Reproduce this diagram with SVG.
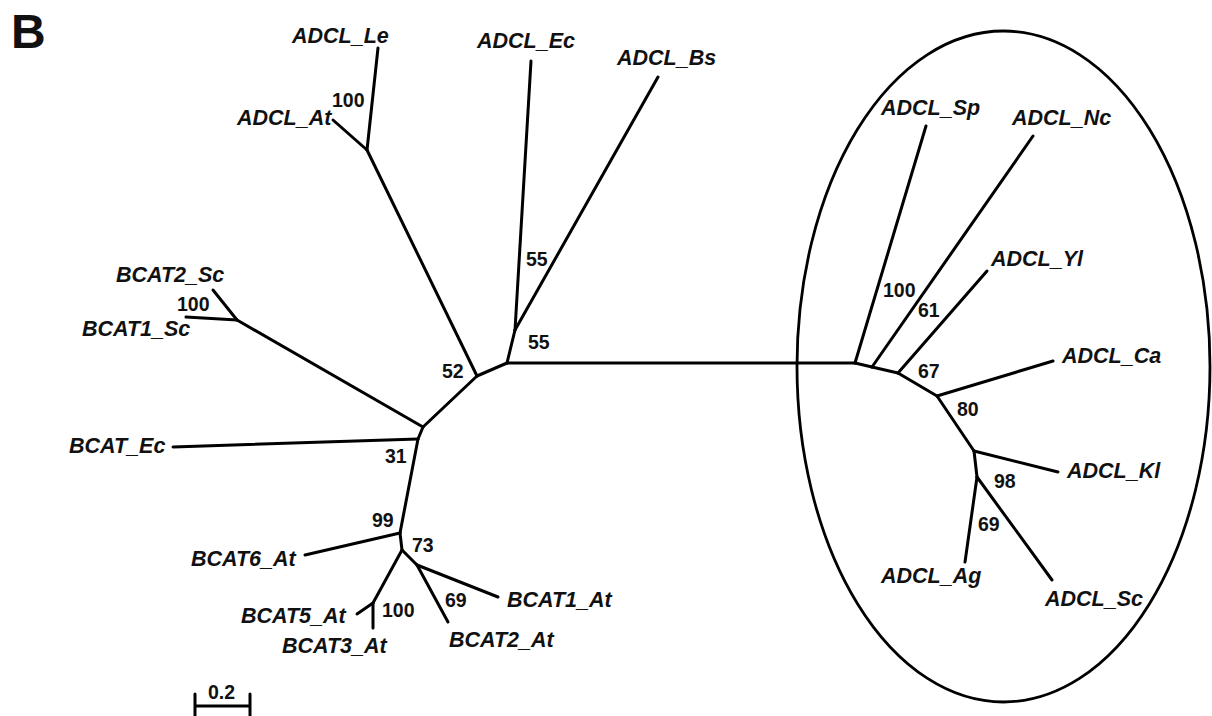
<svg xmlns="http://www.w3.org/2000/svg" width="1212" height="716" viewBox="0 0 1212 716">
  <style>
    .br { fill: none; stroke: #000; stroke-width: 3; stroke-linecap: round; stroke-linejoin: round; }
    .taxon { font-family: "Liberation Sans", Arial, sans-serif; font-weight: bold; font-style: italic; font-size: 21.5px; fill: #111; }
    .boot { font-family: "Liberation Sans", Arial, sans-serif; font-weight: bold; font-size: 19.5px; fill: #111; }
    .panel { font-family: "Liberation Sans", Arial, sans-serif; font-weight: bold; font-size: 48px; fill: #111; }
    .clade { fill: none; stroke: #000; stroke-width: 2.8; }
  </style>
  <rect width="1212" height="716" fill="#fff"/>

  <text class="panel" x="11" y="48">B</text>

  <!-- ADCL clade outline -->
  <ellipse class="clade" cx="1003.5" cy="366.5" rx="206.5" ry="335.5"/>

  <!-- tree branches -->
  <g id="connectors" class="br">
    <path d="M367,150 L378,48"/>
    <path d="M367,150 L333,120"/>
    <path d="M367,150 L477,376"/>
    <path d="M477,376 L507,363"/>
    <path d="M507,363 L515,330"/>
    <path d="M515,330 L531,61"/>
    <path d="M515,330 L658,77"/>
    <path d="M507,363 L855,363"/>
    <path d="M855,363 L926,126"/>
    <path d="M855,363 L872,367"/>
    <path d="M872,367 L1033,136"/>
    <path d="M872,367 L898,373"/>
    <path d="M898,373 L987,271"/>
    <path d="M898,373 L937,396"/>
    <path d="M937,396 L1053,361"/>
    <path d="M937,396 L974,451"/>
    <path d="M974,451 L1058,472"/>
    <path d="M974,451 L977,477"/>
    <path d="M977,477 L965,562"/>
    <path d="M977,477 L1052,580"/>
    <path d="M477,376 L423,427"/>
    <path d="M423,427 L237,320"/>
    <path d="M237,320 L213,290"/>
    <path d="M237,320 L186,317"/>
    <path d="M423,427 L418,439"/>
    <path d="M418,439 L173,447"/>
    <path d="M418,439 L400,533"/>
    <path d="M400,533 L305,555"/>
    <path d="M400,533 L402,550"/>
    <path d="M402,550 L417,565"/>
    <path d="M417,565 L498,597"/>
    <path d="M417,565 L448,622"/>
    <path d="M402,550 L373,603"/>
    <path d="M373,603 L357,614"/>
    <path d="M373,603 L373,628"/>
  </g>

  <!-- leaves -->
  <g id="ADCL_Le"><text class="taxon" x="292" y="43">ADCL_Le</text></g>
  <g id="ADCL_At"><text class="taxon" x="237" y="125">ADCL_At</text></g>
  <g id="ADCL_Ec"><text class="taxon" x="477" y="48">ADCL_Ec</text></g>
  <g id="ADCL_Bs"><text class="taxon" x="617" y="65">ADCL_Bs</text></g>
  <g id="ADCL_Sp"><text class="taxon" x="881" y="115">ADCL_Sp</text></g>
  <g id="ADCL_Nc"><text class="taxon" x="1012" y="125">ADCL_Nc</text></g>
  <g id="ADCL_Yl"><text class="taxon" x="991" y="266">ADCL_Yl</text></g>
  <g id="ADCL_Ca"><text class="taxon" x="1062" y="363">ADCL_Ca</text></g>
  <g id="ADCL_Kl"><text class="taxon" x="1067" y="478">ADCL_Kl</text></g>
  <g id="ADCL_Ag"><text class="taxon" x="881" y="583">ADCL_Ag</text></g>
  <g id="ADCL_Sc"><text class="taxon" x="1045" y="606">ADCL_Sc</text></g>
  <g id="BCAT2_Sc"><text class="taxon" x="116" y="282">BCAT2_Sc</text></g>
  <g id="BCAT1_Sc"><text class="taxon" x="82" y="336">BCAT1_Sc</text></g>
  <g id="BCAT_Ec"><text class="taxon" x="69" y="453">BCAT_Ec</text></g>
  <g id="BCAT6_At"><text class="taxon" x="191" y="566">BCAT6_At</text></g>
  <g id="BCAT5_At"><text class="taxon" x="241" y="623">BCAT5_At</text></g>
  <g id="BCAT3_At"><text class="taxon" x="282" y="653">BCAT3_At</text></g>
  <g id="BCAT1_At"><text class="taxon" x="507" y="607">BCAT1_At</text></g>
  <g id="BCAT2_At"><text class="taxon" x="449" y="647">BCAT2_At</text></g>

  <!-- bootstrap support values -->
  <g id="support">
    <text class="boot" x="332" y="107">100</text>
    <text class="boot" x="177" y="311">100</text>
    <text class="boot" x="385" y="463">31</text>
    <text class="boot" x="442" y="378">52</text>
    <text class="boot" x="528" y="349">55</text>
    <text class="boot" x="526" y="266">55</text>
    <text class="boot" x="883" y="297">100</text>
    <text class="boot" x="918" y="317">61</text>
    <text class="boot" x="918" y="378">67</text>
    <text class="boot" x="957" y="416">80</text>
    <text class="boot" x="994" y="488">98</text>
    <text class="boot" x="978" y="531">69</text>
    <text class="boot" x="372" y="527">99</text>
    <text class="boot" x="412" y="552">73</text>
    <text class="boot" x="382" y="617">100</text>
    <text class="boot" x="445" y="607">69</text>
  </g>

  <!-- scale bar -->
  <g id="scale_bar">
    <path class="br" d="M195,706 L250,706 M195,694 L195,716 M250,694 L250,716"/>
    <text class="boot" x="208" y="699">0.2</text>
  </g>
</svg>
